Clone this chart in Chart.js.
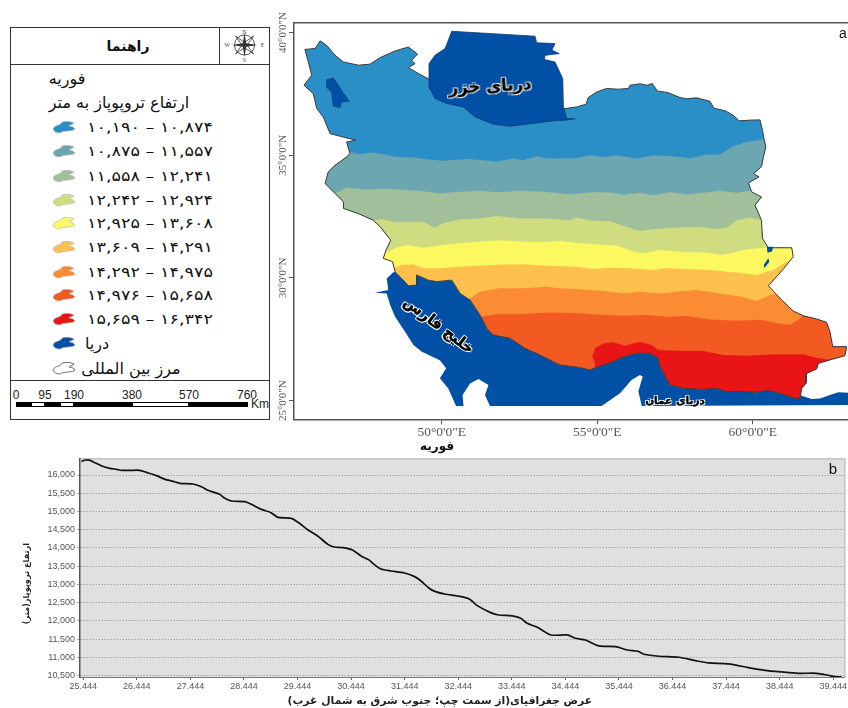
<!DOCTYPE html>
<html>
<head>
<meta charset="utf-8">
<script src="https://cdn.jsdelivr.net/npm/chart.js@4"></script>
<style>
  html, body { margin: 0; padding: 0; background: #fff; overflow: hidden; }
  #page { position: relative; width: 848px; height: 708px; overflow: hidden; }
  #mapCanvasBox { position: absolute; left: 270px; top: 0; width: 578px; height: 450px; }
  #lineCanvasBox { position: absolute; left: 0; top: 450px; width: 848px; height: 258px; }
  .txt { position: absolute; white-space: nowrap; transform: translate(-50%, -50%); font-family: "DejaVu Sans", sans-serif; color: #111; }
  .box { position: absolute; box-sizing: border-box; }
  .halo { font-weight: bold; color: #000; -webkit-text-stroke: 0.4px #000; text-shadow: -1px -1px 0 #fff, 1px -1px 0 #fff, -1px 1px 0 #fff, 1px 1px 0 #fff, 0 0 2px #fff; }
</style>
</head>
<body>
<div id="page">
  <div id="mapCanvasBox"><canvas id="mapChart" width="578" height="450"></canvas></div>
  <div id="lineCanvasBox"><canvas id="lineChart" width="848" height="258"></canvas></div>
</div>
<script>
// profile values
const profileLat = [25.41,25.49,25.57,25.66,25.79,25.94,26.07,26.16,26.31,26.50,26.62,26.81,26.97,27.12,27.25,27.49,27.65,27.77,27.99,28.07,28.21,28.46,28.58,28.77,28.95,29.08,29.33,29.48,29.64,29.82,30.01,30.13,30.29,30.47,30.63,30.77,30.88,31.00,31.19,31.44,31.63,31.75,31.90,32.02,32.21,32.43,32.65,32.80,33.05,33.20,33.45,33.61,33.73,33.92,34.17,34.48,34.63,34.82,35.07,35.38,35.60,35.80,35.91,36.19,36.56,36.87,37.12,37.49,37.86,38.17,38.48,38.79,39.14,39.35,39.51,39.60];
const profileHeight = [16374,16411,16402,16338,16247,16183,16155,16128,16128,16128,16073,15982,15881,15826,15772,15753,15680,15580,15470,15379,15288,15269,15196,15059,14968,14840,14813,14676,14493,14329,14100,14027,14009,13945,13781,13680,13543,13425,13370,13315,13215,13096,12895,12804,12731,12685,12603,12420,12228,12164,12137,12073,11936,11826,11616,11616,11525,11479,11315,11297,11205,11169,11087,11032,11005,10913,10849,10822,10721,10648,10603,10566,10566,10511,10466,10466];
const profileXTicks = [25.444,26.444,27.444,28.444,29.444,30.444,31.444,32.444,33.444,34.444,35.444,36.444,37.444,38.444,39.444];
const profileYTicks = [10500,11000,11500,12000,12500,13000,13500,14000,14500,15000,15500,16000];

// map shapes as [lon, lat]
const iranBorder = [[45.60,39.31],[45.93,39.35],[46.09,39.66],[46.30,39.48],[46.57,39.07],[46.84,38.80],[47.32,38.67],[47.69,38.71],[48.02,38.98],[48.50,39.25],[48.93,39.41],[49.22,39.12],[49.03,38.87],[49.14,38.73],[48.93,38.57],[49.25,38.33],[49.59,38.10],[49.9,37.6],[52,37],[53.96,36.90],[54.34,36.97],[54.64,37.08],[54.71,37.35],[54.98,37.58],[55.30,37.72],[55.68,37.69],[56.00,37.72],[56.05,37.85],[56.37,37.91],[56.59,37.85],[56.77,37.92],[56.93,37.62],[57.28,37.55],[57.66,37.35],[57.87,37.30],[58.19,37.34],[58.62,37.20],[58.75,36.92],[59.11,36.81],[59.37,36.63],[59.56,36.40],[59.91,36.43],[60.23,36.44],[60.31,36.02],[60.36,35.68],[60.42,35.34],[60.34,34.93],[60.28,34.53],[60.02,34.25],[60.20,34.12],[59.86,33.87],[59.96,33.51],[60.28,33.30],[60.07,32.96],[60.28,32.35],[60.31,31.61],[60.50,31.23],[61.25,31.23],[61.30,30.87],[61.00,30.39],[60.50,29.68],[60.93,29.10],[61.30,28.65],[61.62,28.46],[62.05,28.33],[62.37,28.19],[62.48,27.81],[62.57,27.20],[63.02,27.20],[62.96,26.83],[62.48,26.66],[62.11,26.52],[62.05,26.29],[61.73,26.11],[61.71,25.71],[61.57,25.50],[61.52,25.09],[61.36,25.09],[61.09,25.20],[60.77,25.34],[60.45,25.41],[60.12,25.34],[59.59,25.37],[59.16,25.37],[58.84,25.50],[58.41,25.46],[57.77,25.50],[57.34,25.64],[57.18,25.98],[57.02,26.38],[56.96,26.72],[56.69,26.93],[56.27,26.93],[55.84,26.79],[55.51,26.59],[55.03,26.38],[54.76,26.25],[54.39,26.36],[53.80,26.45],[53.59,26.59],[53.16,26.86],[52.68,27.13],[52.20,27.54],[51.66,27.67],[51.45,27.95],[51.23,28.49],[50.91,29.10],[50.59,29.37],[50.32,29.91],[49.84,29.85],[49.57,29.91],[49.19,30.12],[49.19,29.71],[48.93,29.68],[48.71,29.98],[48.50,30.25],[48.42,30.66],[48.12,30.80],[48.21,31.14],[48.36,31.54],[48.02,32.09],[47.80,32.35],[47.32,32.62],[46.84,32.83],[46.84,33.10],[46.57,33.44],[46.25,33.85],[46.35,34.32],[46.57,34.59],[46.94,34.93],[47.05,35.07],[46.94,35.54],[47.24,35.61],[46.89,35.72],[46.41,35.88],[46.19,36.56],[45.98,36.90],[45.87,37.51],[45.57,37.85],[45.82,38.26],[45.71,38.80],[45.60,39.31]];
const caspianSea = [[50.32,40.05],[53.00,39.85],[53.05,39.58],[53.64,39.55],[53.54,39.28],[53.78,39.14],[53.32,39.07],[53.30,38.90],[53.64,38.80],[53.89,38.12],[53.91,36.97],[54.02,36.49],[54.28,36.49],[53.99,36.43],[53.59,36.40],[52.20,36.18],[51.66,36.26],[51.07,36.56],[50.69,36.97],[50.16,37.11],[49.78,37.31],[49.62,37.72],[49.59,38.73],[49.78,39.07],[50.11,39.35],[50.32,40.05]];
const urmiaLake = [[46.30,38.08],[46.51,38.15],[46.68,37.85],[46.81,37.58],[47.03,37.20],[46.78,37.17],[46.73,36.94],[46.51,37.00],[46.46,37.58],[46.28,37.78],[46.30,38.08]];
const hamunNorth = [[60.45,31.27],[60.66,31.27],[60.61,31.07],[60.47,31.04],[60.45,31.27]];
const hamunSouth = [[60.50,30.80],[60.53,30.66],[60.39,30.43],[60.36,30.55],[60.50,30.80]];
const southernSeas = [[48.44,30.23],[48.23,29.98],[48.28,29.51],[47.85,29.40],[48.23,29.37],[48.34,28.90],[48.50,28.42],[48.82,27.81],[49.09,27.27],[49.36,26.99],[49.94,26.65],[50.14,26.32],[49.94,25.91],[50.21,25.50],[50.46,24.78],[50.70,24.78],[50.67,25.23],[50.91,25.70],[51.18,25.88],[51.50,25.64],[51.39,25.23],[51.55,24.78],[55.14,24.78],[55.73,25.30],[56.10,25.84],[56.37,26.05],[56.46,25.98],[56.32,25.37],[56.43,24.78],[63.06,24.82],[63.06,25.32],[62.75,25.34],[62.48,25.23],[62.16,25.09],[61.89,25.07],[61.57,25.20],[61.0,25.8],[57.5,27.0],[56.3,27.2],[55,26.8],[52,28.2],[50.7,30],[48.8,30.3],[48.44,30.23]];

// northern edge of each height band, west to east
const bandEdge2 = [[45.0,35.2],[47.05,35.14],[47.37,35.04],[47.75,35.11],[48.12,35.04],[48.50,34.93],[49.09,34.91],[49.52,34.84],[50.05,34.77],[50.48,34.82],[50.91,34.85],[51.34,34.80],[51.77,34.74],[52.30,34.87],[52.62,34.80],[53.05,34.96],[53.37,34.88],[53.70,34.87],[54.34,34.89],[54.76,35.00],[55.19,34.93],[55.62,35.00],[56.27,34.87],[56.80,35.00],[57.34,34.97],[58.03,34.88],[58.52,35.03],[58.94,35.03],[59.37,35.37],[59.80,35.54],[60.34,35.65],[61,35.7]];
const bandEdge3 = [[46.0,33.1],[46.62,33.47],[46.94,33.67],[47.59,33.60],[48.23,33.64],[48.87,33.58],[49.41,33.53],[49.94,33.44],[50.59,33.51],[51.23,33.55],[51.77,33.49],[52.52,33.55],[53.27,33.51],[54.12,33.41],[54.87,33.49],[55.41,33.48],[55.84,33.39],[56.37,33.47],[56.80,33.37],[57.34,33.49],[57.87,33.41],[58.41,33.47],[58.94,33.55],[59.48,33.47],[59.91,33.55],[61,33.55]];
const bandEdge4 = [[47.3,32.3],[47.80,32.35],[48.12,32.39],[48.44,32.29],[48.87,32.29],[49.41,32.29],[49.78,32.05],[50.05,32.24],[50.59,32.38],[51.23,32.42],[51.77,32.52],[52.52,32.42],[53.37,32.42],[54.12,32.35],[54.34,32.45],[54.87,32.33],[55.41,32.31],[55.94,32.08],[56.37,31.92],[56.91,31.99],[57.44,32.05],[58.30,32.09],[58.84,31.99],[59.16,32.05],[59.48,32.35],[59.91,32.46],[60.28,32.35],[61,32.3]];
const bandEdge5 = [[47.8,30.9],[48.14,31.00],[48.55,31.23],[48.87,31.34],[49.41,31.23],[50.05,31.34],[50.59,31.41],[51.23,31.48],[51.87,31.54],[52.52,31.48],[53.16,31.45],[53.80,31.50],[54.44,31.41],[54.98,31.37],[55.62,31.31],[56.21,31.07],[56.48,31.00],[57.02,31.14],[57.66,31.07],[58.41,31.04],[59.05,30.93],[59.70,31.14],[60.34,31.23],[60.87,31.27],[62,31.3]];
const bandEdge6 = [[48.0,30.3],[48.44,30.39],[48.71,30.53],[49.09,30.55],[49.41,30.39],[49.94,30.39],[50.48,30.46],[51.23,30.50],[51.98,30.55],[52.73,30.55],[53.37,30.50],[54.34,30.46],[54.87,30.36],[55.41,30.42],[56.05,30.39],[56.80,30.32],[57.23,30.39],[57.87,30.35],[58.62,30.32],[59.37,30.23],[60.12,30.12],[60.66,30.32],[61.09,30.66],[62,30.7]];
const bandEdge7 = [[50.5,28.9],[50.91,29.17],[51.23,29.44],[51.87,29.58],[52.62,29.58],[53.37,29.64],[53.80,29.57],[54.34,29.55],[55.19,29.47],[55.84,29.37],[56.37,29.44],[57.02,29.37],[57.55,29.44],[58.19,29.51],[58.94,29.37],[59.59,29.24],[60.12,29.06],[60.55,29.30],[60.87,29.37],[62,29.4]];
const bandEdge8 = [[51.0,28.2],[51.28,28.42],[51.77,28.52],[52.52,28.52],[53.27,28.58],[53.80,28.58],[54.44,28.56],[55.19,28.49],[55.94,28.46],[56.59,28.49],[57.23,28.42],[57.87,28.45],[58.62,28.31],[59.48,28.26],[60.23,28.30],[60.77,28.15],[61.20,28.08],[61.52,28.35],[61.68,28.56],[63.1,28.6]];
const bandEdge9 = [[54.93,26.0],[54.93,26.52],[54.84,26.79],[54.93,27.13],[55.19,27.33],[55.51,27.38],[55.89,27.24],[56.37,27.40],[56.75,27.27],[56.96,27.06],[57.77,27.02],[58.41,27.02],[59.05,26.86],[59.80,26.83],[60.77,26.89],[61.62,26.89],[62.05,26.75],[62.48,26.66],[63.1,26.6]];

const mapLonTicks = [50, 55, 60];
const mapLatTicks = [25, 30, 35, 40];

const bandColors = ["#2a8fc6", "#6ca6b1", "#a0bf9a", "#cfdd80", "#fbf95f", "#fdc04c", "#fb8c33", "#f25a22", "#e81416"];
const seaColor = "#0050a6";
const legendRanges = ["۱۰,۱۹۰ – ۱۰,۸۷۴", "۱۰,۸۷۵ – ۱۱,۵۵۷", "۱۱,۵۵۸ – ۱۲,۲۴۱", "۱۲,۲۴۲ – ۱۲,۹۲۴", "۱۲,۹۲۵ – ۱۳,۶۰۸", "۱۳,۶۰۹ – ۱۴,۲۹۱", "۱۴,۲۹۲ – ۱۴,۹۷۵", "۱۴,۹۷۶ – ۱۵,۶۵۸", "۱۵,۶۵۹ – ۱۶,۳۴۲"];
const scaleLabels = ["0", "95", "190", "380", "570", "760"];

const page = document.getElementById("page");

function addText(str, x, y, css) {
  const el = document.createElement("div");
  el.className = "txt";
  el.textContent = str;
  el.style.left = x + "px";
  el.style.top = y + "px";
  el.style.cssText += css || "";
  page.appendChild(el);
  return el;
}

function addBox(x, y, w, h, css) {
  const el = document.createElement("div");
  el.className = "box";
  el.style.cssText += `left:${x}px;top:${y}px;width:${w}px;height:${h}px;` + css;
  page.appendChild(el);
  return el;
}

function addSwatch(y, fill, stroke) {
  const el = addBox(52, y - 7, 24, 14, "");
  el.innerHTML = `<svg width="24" height="14" viewBox="0 0 24 14"><path d="M1 9 C3 4 9 6 10 2 C14 1 18 1 22 3 C20 5 17 5 17 6 C19 6 22 7 23 9 C20 12 12 10 8 13 C5 13 2 12 1 9 Z" fill="${fill}" stroke="${stroke}" stroke-width="0.7"/></svg>`;
}

// ---- legend panel
addBox(10, 27, 260, 393, "border:1px solid #333;");
addBox(10, 64, 260, 1, "background:#333;");
addBox(219, 27, 1, 37, "background:#333;");
addBox(10, 380, 260, 1, "background:#333;");
addText("راهنما", 128, 46, "font-size:14px;font-weight:bold;");

const compass = addBox(224, 29, 41, 33, "");
compass.innerHTML = `<svg width="41" height="33" viewBox="0 0 41 33">
  <circle cx="20.5" cy="16" r="10" fill="none" stroke="#444" stroke-width="0.9"/>
  <path d="M20.5 4 L22.2 14.3 L33 16 L22.2 17.7 L20.5 28 L18.8 17.7 L8 16 L18.8 14.3 Z" fill="#333"/>
  <path d="M11.5 7 L20.5 13.5 L29.5 7 L23 16 L29.5 25 L20.5 18.5 L11.5 25 L18 16 Z" fill="none" stroke="#333" stroke-width="0.8"/>
  <text x="20.5" y="4.5" font-size="6" text-anchor="middle" font-family="Liberation Serif" fill="#444">N</text>
  <text x="20.5" y="33" font-size="6" text-anchor="middle" font-family="Liberation Serif" fill="#444">S</text>
  <text x="3" y="18" font-size="6" text-anchor="middle" font-family="Liberation Serif" fill="#444">W</text>
  <text x="38.5" y="18" font-size="6" text-anchor="middle" font-family="Liberation Serif" fill="#444">E</text></svg>`;

addText("فوریه", 67, 78, "font-size:16px;");
addText("ارتفاع تروپوپاز به متر", 119, 102, "font-size:16px;");

const legendRows = [127, 151, 176, 200, 223, 247, 272, 295, 319];
legendRanges.forEach((r, i) => {
  addSwatch(legendRows[i], bandColors[i], "#bbb");
  addText(r, 150, legendRows[i], "font-size:14px;direction:ltr;transform:translate(-50%,-50%) scaleX(1.26);");
});
addSwatch(343, seaColor, "#999");
addText("دریا", 97, 343, "font-size:16px;");
addSwatch(368, "#fff", "#333");
addText("مرز بین المللی", 131, 368, "font-size:16px;");

// scale bar
const scaleStops = [16, 31, 45, 60, 74, 132, 189, 248];
for (let i = 0; i < scaleStops.length - 1; i++) {
  const black = i % 2 === 0;
  addBox(scaleStops[i], 402, scaleStops[i + 1] - scaleStops[i], 5, `background:${black ? "#000" : "#fff"};border:1px solid #000;`);
}
const scaleLabelX = [16, 45, 74, 132, 189, 247];
scaleLabels.forEach((s, i) => addText(s, scaleLabelX[i], 395, "font-family:'Liberation Sans';font-size:12px;color:#222;"));
addText("Km", 260, 404, "font-family:'Liberation Sans';font-size:12px;color:#222;");

// ---- map labels
addText("دریای خزر", 490, 86, "font-size:16.5px;transform:translate(-50%,-50%) rotate(-3deg);").classList.add("halo");
addText("خلیج فارس", 439, 325, "font-size:15px;transform:translate(-50%,-50%) rotate(37deg);").classList.add("halo");
addText("دریای عمان", 675, 400, "font-size:10.5px;").classList.add("halo");
addText("فوریه", 437, 446, "font-size:12px;font-weight:bold;");
addText("a", 843, 33, "font-family:'Liberation Sans';font-size:14px;");
addText("b", 833, 468, "font-family:'Liberation Sans';font-size:15px;");

// ---- map chart
const toXY = (pts) => pts.map((p) => ({ x: p[0], y: p[1] }));
const closeBand = (edge) => toXY(edge.concat([[edge[edge.length - 1][0], 24], [edge[0][0], 24]]));

const shape = (data, color, extra) => Object.assign({
  data: data, showLine: true, pointRadius: 0, tension: 0, borderWidth: 0,
  backgroundColor: color, borderColor: color, fill: "shape",
}, extra);

// painted in this order, the library draws the last dataset first
const paintOrder = [
  shape(toXY(southernSeas), seaColor),
  shape(toXY(iranBorder), bandColors[0]),
  shape(closeBand(bandEdge2), bandColors[1], { clipIran: true }),
  shape(closeBand(bandEdge3), bandColors[2], { clipIran: true }),
  shape(closeBand(bandEdge4), bandColors[3], { clipIran: true }),
  shape(closeBand(bandEdge5), bandColors[4], { clipIran: true }),
  shape(closeBand(bandEdge6), bandColors[5], { clipIran: true }),
  shape(closeBand(bandEdge7), bandColors[6], { clipIran: true }),
  shape(closeBand(bandEdge8), bandColors[7], { clipIran: true }),
  shape(closeBand(bandEdge9), bandColors[8], { clipIran: true }),
  shape(toXY(iranBorder), "#3a3a3a", { fill: false, borderWidth: 1 }),
  shape(toXY(caspianSea), seaColor, { borderWidth: 0.8, borderColor: "#12386e" }),
  shape(toXY(urmiaLake), seaColor, { borderWidth: 0.6, borderColor: "#12386e" }),
  shape(toXY(hamunNorth), seaColor),
  shape(toXY(hamunSouth), seaColor),
];

const clipToIran = {
  id: "clipToIran",
  beforeDatasetDraw(chart, args) {
    if (!chart.data.datasets[args.index].clipIran) return;
    const { ctx, scales } = chart;
    ctx.save();
    ctx.beginPath();
    iranBorder.forEach((p, i) => {
      const x = scales.x.getPixelForValue(p[0]);
      const y = scales.y.getPixelForValue(p[1]);
      if (i === 0) ctx.moveTo(x, y); else ctx.lineTo(x, y);
    });
    ctx.closePath();
    ctx.clip();
  },
  afterDatasetDraw(chart, args) {
    if (chart.data.datasets[args.index].clipIran) chart.ctx.restore();
  },
};

// the clip has to run before the filler paints the dataset, so it goes first in the registry
const filler = Chart.registry.getPlugin("filler");
Chart.unregister(filler);
Chart.register(clipToIran);
Chart.register(filler);

const mapFrame = {
  id: "mapFrame",
  afterDraw(chart) {
    const { ctx, chartArea: a } = chart;
    ctx.save();
    ctx.strokeStyle = "#555";
    ctx.lineWidth = 1.5;
    ctx.beginPath();
    ctx.moveTo(a.left, a.top);
    ctx.lineTo(a.right, a.top);
    ctx.stroke();
    ctx.restore();
  },
};

new Chart(document.getElementById("mapChart"), {
  type: "scatter",
  data: { datasets: paintOrder.slice().reverse() },
  plugins: [mapFrame],
  options: {
    responsive: false,
    animation: false,
    layout: { padding: { left: 0, right: 0, top: 22.7, bottom: 0 } },
    plugins: { legend: { display: false }, tooltip: { enabled: false } },
    scales: {
      x: {
        type: "linear", min: 45.25, max: 63.06,
        afterBuildTicks: (s) => { s.ticks = mapLonTicks.map((v) => ({ value: v })); },
        afterFit: (s) => { s.height = 30.7; },
        grid: { drawOnChartArea: false, tickLength: 5, color: "#555" },
        border: { color: "#555", width: 1.5 },
        ticks: { autoSkip: false, maxRotation: 0, color: "#555", padding: 0, font: { family: "Liberation Serif", size: 13.5 }, callback: (v) => `${v}°0'0"E` },
      },
      y: {
        type: "linear", min: 24.24, max: 40.40,
        afterBuildTicks: (s) => { s.ticks = mapLatTicks.map((v) => ({ value: v })); },
        afterFit: (s) => { s.width = 24; },
        grid: { drawOnChartArea: false, tickLength: 5, color: "#555" },
        border: { color: "#555", width: 1.5 },
        ticks: { autoSkip: false, minRotation: 90, maxRotation: 90, crossAlign: "center", padding: -15, color: "#555", font: { family: "Liberation Serif", size: 11 }, callback: (v) => `${v}°0'0"N` },
      },
    },
  },
});

// ---- profile chart
const plotBackground = {
  id: "plotBackground",
  beforeDraw(chart) {
    const { ctx, chartArea: a } = chart;
    ctx.save();
    ctx.fillStyle = "#e0e0e0";
    ctx.fillRect(a.left, a.top, a.right - a.left, a.bottom - a.top);
    ctx.strokeStyle = "#c4c4c4";
    ctx.lineWidth = 1.5;
    ctx.beginPath();
    ctx.moveTo(a.left, a.top);
    ctx.lineTo(a.right, a.top);
    ctx.lineTo(a.right, a.bottom);
    ctx.stroke();
    ctx.restore();
  },
};

new Chart(document.getElementById("lineChart"), {
  type: "scatter",
  data: {
    datasets: [{
      label: "ارتفاع تروپوپاز",
      data: profileLat.map((lat, i) => ({ x: lat, y: profileHeight[i] })),
      showLine: true, pointRadius: 0, borderColor: "#111", borderWidth: 1.7, tension: 0.25,
    }],
  },
  plugins: [plotBackground],
  options: {
    responsive: false,
    animation: false,
    layout: { padding: { left: 0, right: 1.3, top: 8.7, bottom: 0 } },
    plugins: { legend: { display: false }, tooltip: { enabled: false } },
    scales: {
      x: {
        type: "linear", min: 25.383, max: 39.662,
        afterBuildTicks: (s) => { s.ticks = profileXTicks.map((v) => ({ value: v })); },
        afterFit: (s) => { s.height = 31; },
        grid: { drawOnChartArea: false, tickLength: 3, color: "#666" },
        border: { color: "#777", width: 1 },
        ticks: { autoSkip: false, maxRotation: 0, color: "#555", padding: 1, font: { family: "Liberation Sans", size: 9 }, callback: (v) => v.toFixed(3) },
        title: {
          display: true,
          text: "\u202Bعرض جغرافیای(از سمت چپ؛ جنوب شرق به شمال غرب)\u202C" + "\u00A0".repeat(12),
          color: "#222", padding: { top: 0, bottom: 0 }, font: { family: "DejaVu Sans", size: 10.8, weight: "bold" },
        },
      },
      y: {
        type: "linear", min: 10464, max: 16447,
        afterBuildTicks: (s) => { s.ticks = profileYTicks.map((v) => ({ value: v })); },
        afterFit: (s) => { s.width = 80; },
        grid: { color: "#a8a8a8", lineWidth: 1, tickLength: 3 },
        border: { color: "#555", width: 1.5, dash: [1.5, 1.5] },
        ticks: { autoSkip: false, color: "#555", padding: 2, font: { family: "Liberation Sans", size: 9 }, callback: (v) => v.toLocaleString("en-US") },
        title: {
          display: true,
          text: "\u202Bارتفاع تروپوپاز(متر)\u202C" + "\u00A0".repeat(11),
          color: "#222", padding: { top: 22, bottom: 0 }, font: { family: "DejaVu Sans", size: 8.2, weight: "bold" },
        },
      },
    },
  },
});
</script>
</body>
</html>
